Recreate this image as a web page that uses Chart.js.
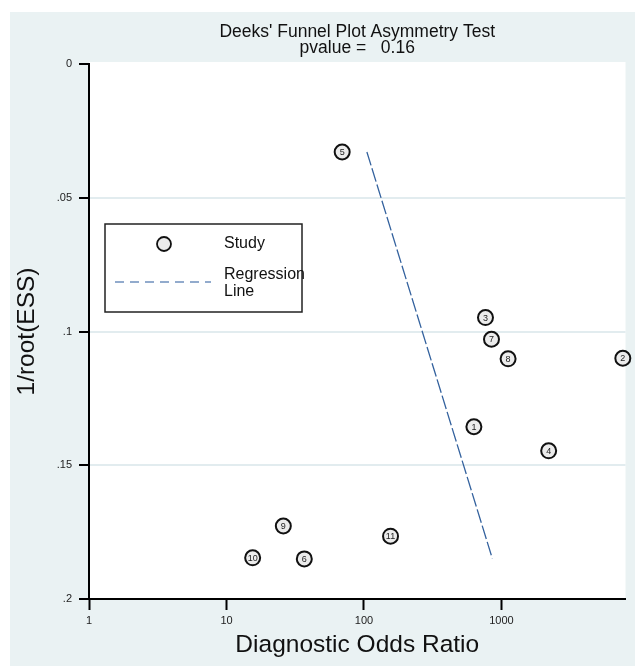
<!DOCTYPE html>
<html>
<head>
<meta charset="utf-8">
<script src="https://cdn.jsdelivr.net/npm/chart.js@4.4.1/dist/chart.umd.min.js"></script>
<style>
  html, body { margin: 0; padding: 0; background: #fff; }
  #wrap { width: 635px; height: 666px; }
</style>
</head>
<body>
<div id="wrap"><canvas id="chart" width="635" height="666"></canvas></div>
<script>
// ── Data ────────────────────────────────────────────────────
const studyIds   = ['1', '2', '3', '4', '5', '6', '7', '8', '9', '10', '11'];
const dorValues  = [630, 7630, 765, 2204, 69.4, 36.8, 846, 1117, 25.9, 15.5, 156];
const essValues  = [0.1356, 0.110, 0.0948, 0.1446, 0.0329, 0.1850, 0.1029, 0.1102, 0.1727, 0.1846, 0.1765];

const lineDor    = [105, 857];
const lineEss    = [0.0329, 0.1848];

const xTicks      = [1, 10, 100, 1000];
const xTickLabels = ['1', '10', '100', '1000'];
const yTicks      = [0, 0.05, 0.1, 0.15, 0.2];
const yTickLabels = ['0', '.05', '.1', '.15', '.2'];

const titleLines  = ["Deeks' Funnel Plot Asymmetry Test", 'pvalue =   0.16'];
const FONT = "'Liberation Sans', Arial, sans-serif";
const BG   = '#eaf2f3';

// ── Plugins ─────────────────────────────────────────────────
const backdrop = {
  id: 'backdrop',
  beforeDraw(chart) {
    const { ctx, chartArea: a } = chart;
    ctx.save();
    ctx.fillStyle = '#fff';
    ctx.fillRect(0, 0, chart.width, chart.height);
    ctx.fillStyle = BG;
    ctx.fillRect(10, 12, chart.width - 10, chart.height - 12);
    ctx.fillStyle = '#fff';
    ctx.fillRect(a.left, a.top - 2, a.right - a.left, a.bottom - a.top + 2);
    ctx.restore();
  }
};

const headline = {
  id: 'headline',
  afterDraw(chart) {
    const { ctx, chartArea: a } = chart;
    const cx = (a.left + a.right) / 2;
    ctx.save();
    ctx.fillStyle = '#111';
    ctx.font = '17.5px ' + FONT;
    ctx.textAlign = 'center';
    ctx.textBaseline = 'middle';
    ctx.fillText(titleLines[0], cx, 32);
    ctx.fillText(titleLines[1], cx, 48);
    ctx.restore();
  }
};

const studyLabels = {
  id: 'studyLabels',
  afterDatasetsDraw(chart) {
    const { ctx } = chart;
    const meta = chart.getDatasetMeta(0);
    ctx.save();
    ctx.fillStyle = '#222';
    ctx.font = '9px ' + FONT;
    ctx.textAlign = 'center';
    ctx.textBaseline = 'middle';
    meta.data.forEach((pt, i) => ctx.fillText(studyIds[i], pt.x, pt.y + 0.5));
    ctx.restore();
  }
};

const boxLegend = {
  id: 'boxLegend',
  afterDraw(chart) {
    const { ctx, chartArea: a } = chart;
    const ds = chart.data.datasets;
    const x0 = a.left + 16, y0 = a.top + 160, w = 197, h = 88;
    ctx.save();
    ctx.fillStyle = '#fff';
    ctx.fillRect(x0, y0, w, h);
    ctx.strokeStyle = '#222';
    ctx.lineWidth = 1.5;
    ctx.strokeRect(x0, y0, w, h);
    // study marker
    ctx.beginPath();
    ctx.arc(x0 + 59, y0 + 20, 7, 0, Math.PI * 2);
    ctx.fillStyle = ds[0].backgroundColor;
    ctx.fill();
    ctx.lineWidth = 1.8;
    ctx.strokeStyle = ds[0].borderColor;
    ctx.stroke();
    // regression line sample
    ctx.beginPath();
    ctx.setLineDash([9, 6]);
    ctx.lineWidth = 1.3;
    ctx.strokeStyle = '#6f90bd';
    ctx.moveTo(x0 + 10, y0 + 58);
    ctx.lineTo(x0 + 106, y0 + 58);
    ctx.stroke();
    ctx.setLineDash([]);
    ctx.fillStyle = '#111';
    ctx.font = '16px ' + FONT;
    ctx.textBaseline = 'middle';
    ctx.fillText(ds[0].label, x0 + 119, y0 + 20);
    ctx.fillText('Regression', x0 + 119, y0 + 51);
    ctx.fillText('Line', x0 + 119, y0 + 68);
    ctx.restore();
  }
};

// ── Chart ───────────────────────────────────────────────────
new Chart(document.getElementById('chart'), {
  type: 'scatter',
  data: {
    datasets: [
      {
        label: 'Study',
        data: dorValues.map((v, i) => ({ x: v, y: essValues[i] })),
        backgroundColor: '#ececec',
        borderColor: '#111',
        borderWidth: 2,
        pointRadius: 7.5,
        clip: false
      },
      {
        label: 'Regression Line',
        data: lineDor.map((v, i) => ({ x: v, y: lineEss[i] })),
        showLine: true,
        borderColor: '#34629e',
        borderWidth: 1.3,
        borderDash: [14, 3],
        pointRadius: 0,
        fill: false
      }
    ]
  },
  options: {
    responsive: false,
    devicePixelRatio: 1,
    animation: false,
    layout: { padding: { top: 64, right: 8, left: 0, bottom: 0 } },
    plugins: { legend: { display: false }, tooltip: { enabled: false }, title: { display: false } },
    scales: {
      x: {
        type: 'logarithmic',
        min: 1, max: 7980,
        afterBuildTicks: s => { s.ticks = xTicks.map(v => ({ value: v })); },
        afterFit: s => { s.height = 67; },
        grid: { drawOnChartArea: false, tickColor: '#000', tickLength: 11, tickWidth: 2 },
        border: { color: '#000', width: 2 },
        ticks: { font: { family: FONT, size: 11 }, color: '#222', padding: 4, autoSkip: false, maxRotation: 0,
                 callback: (v, i) => xTickLabels[i] },
        title: { display: true, text: 'Diagnostic Odds Ratio', font: { family: FONT, size: 24.5 }, color: '#111',
                 padding: { top: 0, bottom: 6 } }
      },
      y: {
        reverse: true,
        min: 0, max: 0.2,
        afterBuildTicks: s => { s.ticks = yTicks.map(v => ({ value: v })); },
        afterFit: s => { s.width = 89; },
        grid: {
          color: c => (c.tick && (c.tick.value === 0 || c.tick.value === 0.2)) ? 'rgba(0,0,0,0)' : '#e2ecef',
          lineWidth: 2, tickColor: '#000', tickLength: 10, tickWidth: 2
        },
        border: { color: '#000', width: 2 },
        ticks: { font: { family: FONT, size: 11 }, color: '#222', padding: 7, autoSkip: false,
                 callback: (v, i) => yTickLabels[i] },
        title: { display: true, text: '1/root(ESS)', font: { family: FONT, size: 24.5 }, color: '#111',
                 padding: { top: 13, bottom: 0 } }
      }
    }
  },
  plugins: [backdrop, studyLabels, boxLegend, headline]
});
</script>
</body>
</html>
